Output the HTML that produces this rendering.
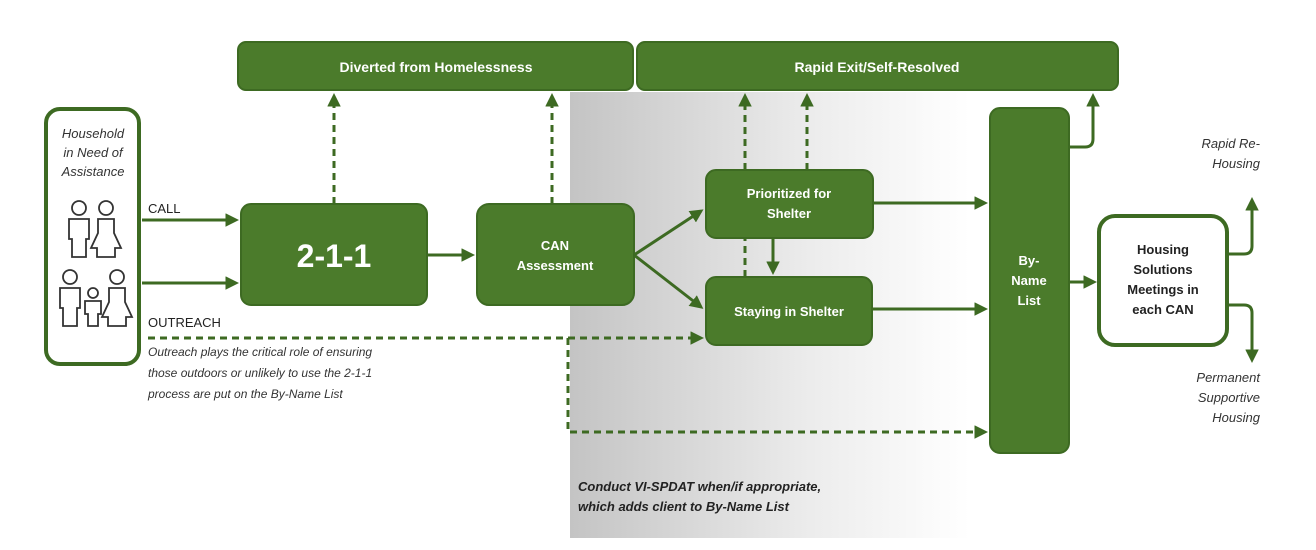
<!DOCTYPE html>
<html><head><meta charset="utf-8"><style>
html,body{margin:0;padding:0;background:#fff;}
svg{display:block;font-family:"Liberation Sans",sans-serif;}
</style></head><body>
<svg width="1316" height="550" viewBox="0 0 1316 550" xmlns="http://www.w3.org/2000/svg">
<defs>
<linearGradient id="g" x1="0" y1="0" x2="1" y2="0">
<stop offset="0" stop-color="#c4c4c4"/><stop offset="0.6" stop-color="#ececec"/><stop offset="1" stop-color="#ffffff"/>
</linearGradient>
<marker id="a" markerWidth="4.5" markerHeight="4.5" refX="3.5" refY="2.25" orient="auto" markerUnits="strokeWidth">
<path d="M0,0 L4.5,2.25 L0,4.5 z" fill="#3d6a22"/></marker>
</defs>
<rect x="570" y="92" width="400" height="446" fill="url(#g)"/>
<g fill="#4b7b2b" stroke="#3d6a22" stroke-width="2">
<rect x="238" y="42" width="395" height="48" rx="8"/>
<rect x="637" y="42" width="481" height="48" rx="8"/>
<rect x="241" y="204" width="186" height="101" rx="10"/>
<rect x="477" y="204" width="157" height="101" rx="12"/>
<rect x="706" y="170" width="167" height="68" rx="10"/>
<rect x="706" y="277" width="166" height="68" rx="10"/>
<rect x="990" y="108" width="79" height="345" rx="10"/>
</g>
<rect x="46" y="109" width="93" height="255" rx="14" fill="#fff" stroke="#3d6a22" stroke-width="4"/>
<rect x="1099" y="216" width="128" height="129" rx="16" fill="#fff" stroke="#3d6a22" stroke-width="4"/>
<g stroke="#3d6a22" stroke-width="3" fill="none">
<line x1="142" y1="220" x2="236" y2="220" marker-end="url(#a)"/>
<line x1="142" y1="283" x2="236" y2="283" marker-end="url(#a)"/>
<line x1="427" y1="255" x2="472" y2="255" marker-end="url(#a)"/>
<line x1="634" y1="255" x2="701" y2="211" marker-end="url(#a)"/>
<line x1="634" y1="255" x2="701" y2="307" marker-end="url(#a)"/>
<line x1="873" y1="203" x2="985" y2="203" marker-end="url(#a)"/>
<line x1="872" y1="309" x2="985" y2="309" marker-end="url(#a)"/>
<line x1="773" y1="238" x2="773" y2="272" marker-end="url(#a)"/>
<line x1="1069" y1="282" x2="1094" y2="282" marker-end="url(#a)"/>
<path d="M1069,147 H1085 Q1093,147 1093,139 V96" marker-end="url(#a)"/>
<path d="M1228,254 H1244 Q1252,254 1252,246 V200" marker-end="url(#a)"/>
<path d="M1228,305 H1244 Q1252,305 1252,313 V360" marker-end="url(#a)"/>
</g>
<g stroke="#3d6a22" stroke-width="3" fill="none" stroke-dasharray="7,5">
<line x1="334" y1="204" x2="334" y2="96" marker-end="url(#a)"/>
<line x1="552" y1="204" x2="552" y2="96" marker-end="url(#a)"/>
<line x1="745" y1="170" x2="745" y2="96" marker-end="url(#a)"/>
<line x1="807" y1="170" x2="807" y2="96" marker-end="url(#a)"/>
<line x1="745" y1="277" x2="745" y2="238"/>
<line x1="148" y1="338" x2="701" y2="338" marker-end="url(#a)"/>
<path d="M568,338 V432 H985" marker-end="url(#a)"/>
</g>
<g fill="none" stroke="#333" stroke-width="1.8">
<circle cx="79" cy="208" r="7"/><path d="M69,219 h20 v20 h-3 v18 h-14 v-18 h-3 z"/>
<circle cx="106" cy="208" r="7"/><path d="M98,219 h16 v14 l7,15 h-6 v9 h-18 v-9 h-6 l7,-15 z"/>
<circle cx="70" cy="277" r="7"/><path d="M60,288 h20 v20 h-3 v18 h-14 v-18 h-3 z"/>
<circle cx="93" cy="293" r="5"/><path d="M85,301 h16 v13 h-3 v12 h-10 v-12 h-3 z"/>
<circle cx="117" cy="277" r="7"/><path d="M109,288 h16 v14 l7,15 h-6 v9 h-18 v-9 h-6 l7,-15 z"/>
</g>
<g fill="#fff" font-weight="bold" text-anchor="middle">
<text x="436" y="72" font-size="14">Diverted from Homelessness</text>
<text x="877" y="72" font-size="14">Rapid Exit/Self-Resolved</text>
<text x="334" y="267" font-size="32">2-1-1</text>
<text x="555" y="250" font-size="13">CAN</text>
<text x="555" y="270" font-size="13">Assessment</text>
<text x="789" y="198" font-size="13">Prioritized for</text>
<text x="789" y="218" font-size="13">Shelter</text>
<text x="789" y="316" font-size="13">Staying in Shelter</text>
<text x="1029" y="265" font-size="13">By-</text>
<text x="1029" y="285" font-size="13">Name</text>
<text x="1029" y="305" font-size="13">List</text>
</g>
<g fill="#222" font-weight="bold" text-anchor="middle" font-size="13">
<text x="1163" y="254">Housing</text>
<text x="1163" y="274">Solutions</text>
<text x="1163" y="294">Meetings in</text>
<text x="1163" y="314">each CAN</text>
</g>
<g fill="#333" font-size="13" font-style="italic">
<text x="93" y="138" text-anchor="middle">Household</text>
<text x="93" y="157" text-anchor="middle">in Need of</text>
<text x="93" y="176" text-anchor="middle">Assistance</text>
<text x="148" y="356" font-size="12">Outreach plays the critical role of ensuring</text>
<text x="148" y="377" font-size="12">those outdoors or unlikely to use the 2-1-1</text>
<text x="148" y="398" font-size="12">process are put on the By-Name List</text>
<text x="1260" y="148" text-anchor="end">Rapid Re-</text>
<text x="1260" y="168" text-anchor="end">Housing</text>
<text x="1260" y="382" text-anchor="end">Permanent</text>
<text x="1260" y="402" text-anchor="end">Supportive</text>
<text x="1260" y="422" text-anchor="end">Housing</text>
<text x="578" y="491" font-weight="bold" fill="#222">Conduct VI-SPDAT when/if appropriate,</text>
<text x="578" y="511" font-weight="bold" fill="#222">which adds client to By-Name List</text>
</g>
<g fill="#222" font-size="13">
<text x="148" y="213">CALL</text>
<text x="148" y="327">OUTREACH</text>
</g>
</svg>
</body></html>
